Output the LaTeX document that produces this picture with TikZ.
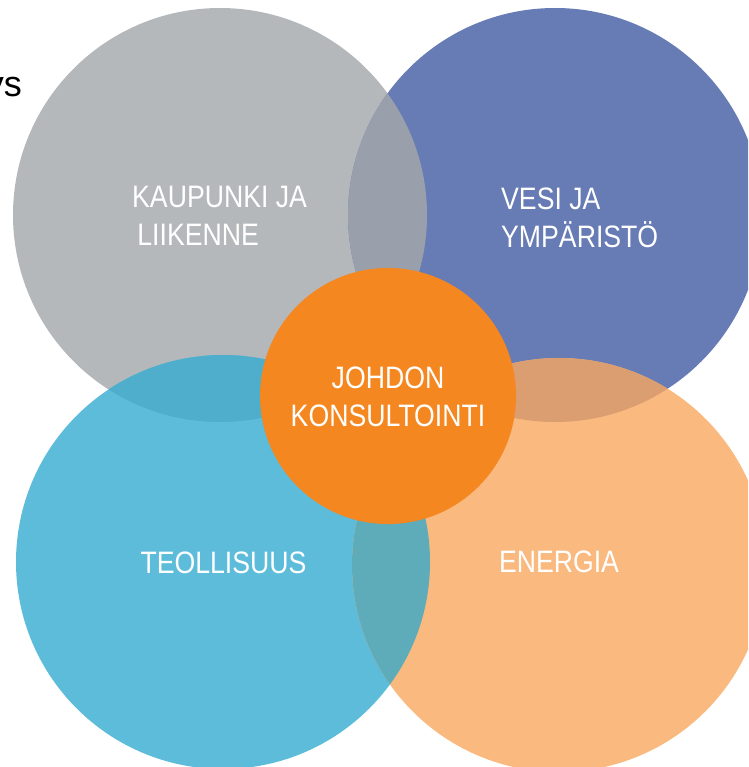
\documentclass[tikz,border=0pt]{standalone}
\usepackage{fontspec}
\setmainfont{Liberation Sans}
\newfontfamily\labelfont[FakeStretch=0.86]{Liberation Sans}

\definecolor{kaupunkigray}{HTML}{B5B8BB}
\definecolor{vesiblue}{HTML}{677BB4}
\definecolor{teollcyan}{HTML}{5CBCD9}
\definecolor{energiapeach}{HTML}{F9B97F}
\definecolor{johdonorange}{HTML}{F58720}
\definecolor{grayblue}{HTML}{99A0AB}
\definecolor{graycyan}{HTML}{4EAECB}
\definecolor{cyanpeach}{HTML}{5EACBA}
\definecolor{bluepeach}{HTML}{DB9E71}

\tikzset{
  areatext/.style={text=white, inner sep=0pt, font=\labelfont\fontsize{31}{38}\selectfont},
}

\begin{document}
\begin{tikzpicture}[x=1pt,y=-1pt]

			\useasboundingbox (0,0) rectangle (748,767);
			\clip (0,0) rectangle (748,767);

			% circle centres
			\coordinate (kaupunki) at (220,215);
			\coordinate (vesi) at (555,215);
			\coordinate (teoll) at (223,562);
			\coordinate (energia) at (559,565);
			\coordinate (johdon) at (388,396);

			% fragment of text cut at the left edge
			\node[anchor=base east, inner sep=0pt, font=\fontsize{36}{40}\selectfont] (ys) at (22,97) {ys};

			% four business areas
			\fill[kaupunkigray] (kaupunki) circle (207pt);
			\fill[vesiblue] (vesi) circle (207pt);
			\fill[teollcyan] (teoll) circle (207pt);
			\fill[energiapeach] (energia) circle (207pt);

			% overlaps
			\begin{scope}
				\clip (kaupunki) circle (207pt);
				\fill[grayblue] (vesi) circle (207pt);
				\fill[graycyan] (teoll) circle (207pt);
			\end{scope}
			\begin{scope}
				\clip (energia) circle (207pt);
				\fill[cyanpeach] (teoll) circle (207pt);
				\fill[bluepeach] (vesi) circle (207pt);
			\end{scope}

			% centre
			\fill[johdonorange] (johdon) circle (128pt);

			% labels
			\node[areatext, anchor=north west, align=left] (kaupunkitext) at (132,186) {KAUPUNKI JA\\\,LIIKENNE};
			\node[areatext, anchor=north west, align=left] (vesitext) at (501,188) {VESI JA\\YMPÄRISTÖ};
			\node[areatext, anchor=north, align=center] (johdontext) at (388,367) {JOHDON\\KONSULTOINTI};
			\node[areatext, anchor=base] (teolltext) at (223.5,573) {TEOLLISUUS};
			\node[areatext, anchor=base] (energiatext) at (559,572) {ENERGIA};

\end{tikzpicture}
\end{document}
